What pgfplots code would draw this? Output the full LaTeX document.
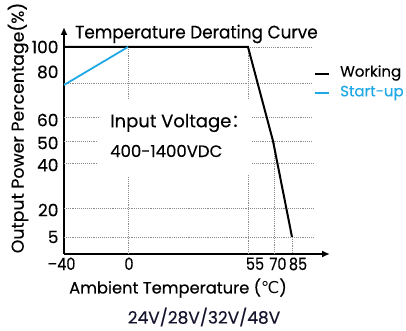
\documentclass[border=0pt]{standalone}
\usepackage{pgfplots}
\pgfplotsset{compat=1.18}
\usetikzlibrary{arrows.meta}
\usepackage{fontspec}
\setmainfont{Poppins}[FakeBold=0.3]
\newfontfamily\dejavu{DejaVu Sans}
\newfontfamily\cjk{Noto Sans CJK SC}
\definecolor{suBlue}{RGB}{30,168,228}
\begin{document}
\begin{tikzpicture}
\begin{axis}[
  x=1pt, y=1pt, xmin=64, xmax=330, ymin=77, ymax=304,
  axis lines=left,
  axis line style={line width=1.8pt, -{Latex[length=8pt,width=7pt]}},
  xtick={64,129,255,278,298},
  xticklabels={\hspace*{-6pt}–40,0,55,70,85},
  ytick={94,121,166,188,211,259,284},
  yticklabels={5,20,40,50,60,80,100},
  major tick length=0pt,
  tick label style={font=\fontsize{17}{18}\selectfont},
  yticklabel style={xshift=-2pt},
  xticklabel style={xscale=0.85},
  clip=false,
  griddot/.style={densely dotted, black!45, line width=0.9pt, forget plot},
]
% grid lines
\addplot[griddot] coordinates {(248,284) (312,284)};
\addplot[griddot] coordinates {(64,248) (312,248)};
\addplot[griddot] coordinates {(64,214) (100,214)};
\addplot[griddot] coordinates {(252,214) (312,214)};
\addplot[griddot] coordinates {(64,190) (97,190)};
\addplot[griddot] coordinates {(252,190) (312,190)};
\addplot[griddot] coordinates {(64,168) (97,168)};
\addplot[griddot] coordinates {(252,168) (314,168)};
\addplot[griddot] coordinates {(64,123) (314,123)};
\addplot[griddot] coordinates {(64,94) (314,94)};
\addplot[griddot] coordinates {(128,284) (128,231)};
\addplot[griddot] coordinates {(128,154) (128,77)};
\addplot[griddot] coordinates {(248,284) (248,231)};
\addplot[griddot] coordinates {(248,156) (248,77)};
\addplot[griddot] coordinates {(274,190) (274,77)};
\addplot[griddot] coordinates {(292,94) (292,77)};
% curves
\addplot[black, line width=2pt] coordinates {(64,284) (248,284) (273,190) (292,94)};
\addplot[suBlue, line width=1.8pt] coordinates {(64,246) (128,284)};
% legend samples
\addplot[black, line width=2.2pt, forget plot] coordinates {(315,257) (329,257)};
\addplot[suBlue, line width=2.2pt, forget plot] coordinates {(315,238) (329,238)};
\node[anchor=west, font=\fontsize{15}{16}\selectfont, inner sep=0pt] at (axis cs:340,258) {Working};
\node[anchor=west, font=\fontsize{15}{16}\selectfont, inner sep=0pt, text=suBlue] at (axis cs:340,238) {Start-up};
% texts
\node[anchor=west, font=\fontsize{18}{20}\selectfont, inner sep=0pt, xscale=0.94] at (axis cs:75,297) {Temperature Derating Curve};
\node[anchor=west, font=\fontsize{18}{20}\selectfont, inner sep=0pt] at (axis cs:110,208) {Input Voltage{\cjk ：}};
\node[anchor=west, font=\fontsize{16.5}{18}\selectfont, inner sep=0pt] at (axis cs:110,180) {400-1400VDC};
\node[rotate=90, font=\fontsize{17.3}{18}\selectfont, inner sep=0pt] at (axis cs:18,203) {Output Power Percentage(\%)};
\node[font=\fontsize{16.3}{18}\selectfont, inner sep=0pt] at (axis cs:178,43) {Ambient Temperature ({\dejavu ℃})};
\node[font=\fontsize{17}{18}\selectfont, inner sep=0pt, text={rgb,255:red,20;green,20;blue,45}] at (axis cs:204,14) {24V/28V/32V/48V};
\coordinate (bl) at (axis cs:0,0);
\coordinate (tr) at (axis cs:406,331);
\end{axis}
\pgfresetboundingbox
\path[use as bounding box] (bl) rectangle (tr);
\end{tikzpicture}
\end{document}
